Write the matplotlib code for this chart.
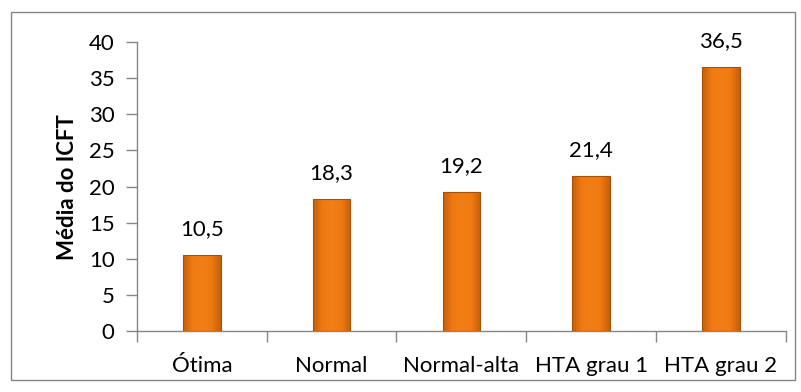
import numpy as np
import matplotlib.pyplot as plt
from matplotlib.patches import Rectangle
from matplotlib.colors import LinearSegmentedColormap

# categorias e médias do ICFT
categorias = ['Ótima', 'Normal', 'Normal-alta', 'HTA grau 1', 'HTA grau 2']
medias = [10.5, 18.3, 19.2, 21.4, 36.5]
rotulos = ['10,5', '18,3', '19,2', '21,4', '36,5']
yticks = [0, 5, 10, 15, 20, 25, 30, 35, 40]

plt.rcParams['font.family'] = ['Lato', 'DejaVu Sans']

fig = plt.figure(figsize=(8.01, 3.92), dpi=100)
ax = fig.add_axes([0.171, 0.155, 0.81, 0.738])

x = np.arange(len(categorias))
barras = ax.bar(x, medias, width=0.29, color='#F07A12', edgecolor='#A85206',
                linewidth=0.8, zorder=3)

# gradiente horizontal (bordas mais escuras) em cada barra
cmap = LinearSegmentedColormap.from_list('laranja', ['#C4600C', '#F07A12', '#F27E16', '#F07A12', '#C4600C'])
grad = np.linspace(0, 1, 64).reshape(1, -1)
for b in barras:
    x0, w, h = b.get_x(), b.get_width(), b.get_height()
    im = ax.imshow(grad, cmap=cmap, aspect='auto', extent=(x0, x0 + w, 0, h),
                   zorder=4, interpolation='bicubic')
    im.set_clip_path(b)
    b.set_facecolor('none')
    b.set_zorder(5)

for xi, v, r in zip(x, medias, rotulos):
    ax.text(xi, v + 2.2, r, ha='center', va='bottom', fontsize=16, color='black')

ax.set_xlim(-0.5, len(categorias) - 0.5)
ax.set_ylim(0, 40)
ax.set_yticks(yticks)
ax.set_yticklabels([str(t) for t in yticks], fontsize=16)
ax.set_xticks(x)
ax.set_xticklabels(categorias, fontsize=16)
ax.tick_params(axis='x', length=0, pad=18)
ax.set_xticks(np.arange(-0.5, len(categorias)), minor=True)
ax.tick_params(axis='x', which='minor', length=8, color='#868686', width=1)
ax.tick_params(axis='y', length=8, color='#868686', width=1, pad=8)

for s in ['top', 'right']:
    ax.spines[s].set_visible(False)
for s in ['left', 'bottom']:
    ax.spines[s].set_color('#868686')
    ax.spines[s].set_linewidth(1)

ax.set_ylabel('Média do ICFT', fontsize=16, fontweight='bold', labelpad=8)

# moldura do gráfico
fig.patches.append(Rectangle((0.014, 0.03), 0.978, 0.94, transform=fig.transFigure,
                             fill=False, edgecolor='#868686', linewidth=1))

fig.savefig('out.png', dpi=100)
